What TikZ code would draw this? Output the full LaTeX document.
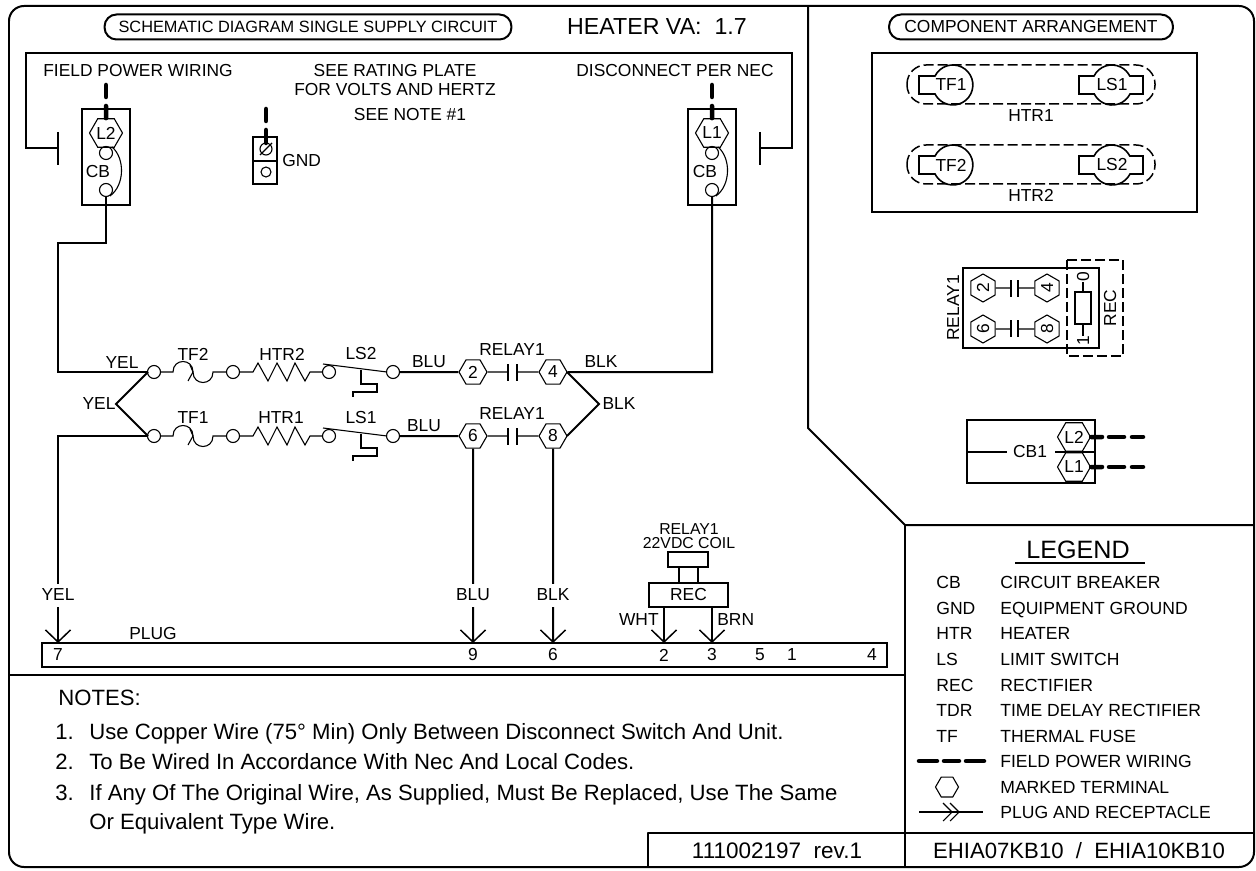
\documentclass[tikz,border=0pt]{standalone}
\usepackage{fontspec}
\setmainfont{Liberation Sans}
\usetikzlibrary{shapes.geometric,arrows.meta}
\tikzset{
  frame/.style={line width=0.04cm,line join=round},
  wire/.style={line width=0.04cm,line join=miter},
  thinw/.style={line width=0.022cm},
  fieldw/.style={line width=0.09cm,line cap=round},
  lbl/.style={inner sep=0pt,font=\fontsize{9.9}{11}\selectfont},
  wirelbl/.style={lbl,fill=white,minimum height=0.46cm},
  notetext/.style={inner sep=0pt,anchor=base west,font=\fontsize{12.6}{14}\selectfont},
  legtext/.style={inner sep=0pt,anchor=base west,font=\fontsize{10}{11}\selectfont},
  term/.style={circle,draw,line width=0.022cm,inner sep=0pt,minimum size=0.26cm},
  hexa/.style={regular polygon,regular polygon sides=6,draw,line width=0.022cm,inner sep=0pt,minimum size=0.56cm,font=\fontsize{9.9}{11}\selectfont},
  hexbig/.style={hexa,minimum size=0.66cm},
  pill/.style={draw,line width=0.04cm,rounded corners=0.24cm,minimum height=0.5cm,inner sep=0pt,font=\fontsize{9.9}{11}\selectfont},
  plugw/.style={wire,-{Straight Barb[length=0.24cm,width=0.5cm,line width=0.03cm]}},
  stadium/.style={line width=0.03cm,dash pattern=on 0.2cm off 0.08cm,rounded corners=0.38cm},
  part/.style={line width=0.032cm},
}
\begin{document}
\begin{tikzpicture}[x=0.02cm,y=-0.02cm]
\useasboundingbox (0,0) rectangle (1256,871);

% frame
\draw[frame,rounded corners=0.3cm] (9,6) rectangle (1254,867);
\draw[frame] (808,6) -- (808,428) -- (905,525) -- (1254,525);
\draw[frame] (905,525) -- (905,867);
\draw[frame] (9,675) -- (905,675);
\draw[frame] (648,867) -- (648,833) -- (1254,833);

\node[pill,minimum width=8.14cm,font=\fontsize{9.3}{11}\selectfont] (titleL) at (308,27) {SCHEMATIC DIAGRAM SINGLE SUPPLY CIRCUIT};
\node[pill,minimum width=5.68cm] (titleR) at (1031,27) {COMPONENT ARRANGEMENT};
\node[lbl,font=\fontsize{13.2}{15}\selectfont] (heater) at (657,27) {HEATER VA:\ \ 1.7};

\node[lbl] (fieldL) at (138,71) {FIELD POWER WIRING};
\node[lbl] (rate1) at (395,71) {SEE RATING PLATE};
\node[lbl] (rate2) at (395,90) {FOR VOLTS AND HERTZ};
\node[lbl] (rate3) at (410,115) {SEE NOTE \#1};
\node[lbl] (fieldR) at (675,71) {DISCONNECT PER NEC};

% left breaker
\coordinate (tickL) at (58,148);
\coordinate (tickR) at (760,148);
\draw[wire,line width=0.03cm] (tickL) -- (26,148) |- (792,53) |- (tickR);
\draw[wire,line width=0.03cm] (58,132) -- (58,165);
\draw[wire,line width=0.03cm] (760,132) -- (760,165);

\draw[wire] (82,109) rectangle (130,205);
\node[hexbig] (L2) at (106,133) {L2};
\node[term] (cbL1) at (106,153) {};
\node[term] (cbL2) at (106,190) {};
\node[lbl] (cbLt) at (98,172) {CB};
\draw[thinw] (112,147) .. controls (125,158) and (125,185) .. (110,196);
\draw[fieldw] (106,85) -- (106,97);
\draw[fieldw] (106,106) -- (L2.north);

% right breaker
\draw[wire] (688,109) rectangle (736,205);
\node[hexbig] (L1) at (712,133) {L1};
\node[term] (cbR1) at (712,153) {};
\node[term] (cbR2) at (712,190) {};
\node[lbl] (cbRt) at (705,172) {CB};
\draw[thinw] (718,147) .. controls (731,158) and (731,185) .. (716,196);
\draw[fieldw] (712,85) -- (712,97);
\draw[fieldw] (712,106) -- (L1.north);

% ground
\draw[thinw] (253,137) rectangle (277,184);
\draw[thinw] (253,161) -- (277,161);
\node[term,minimum size=0.24cm] (gnd1) at (266,149) {};
\node[term,minimum size=0.2cm] (gnd2) at (266,172) {};
\draw[thinw] (260,155) -- (272,143);
\node[lbl,anchor=west] (gndt) at (282,161) {GND};
\draw[fieldw] (266,109) -- (266,121);
\draw[fieldw] (266,130) -- (266,143);

% upper branch
\node[term] (a1) at (154,372) {};
\node[term] (a2) at (233,372) {};
\node[term] (a3) at (329,372) {};
\node[term] (a4) at (393,372) {};
\node[hexa] (h2) at (473,372) {2};
\node[hexa] (h4) at (553,372) {4};
\coordinate (fa) at (173,372);
\coordinate (fb) at (213,372);
\coordinate (ra) at (253,372);
\coordinate (rb) at (310,372);
\coordinate (ca) at (508,372);
\coordinate (cb) at (517,372);
\draw[thinw] (a1) -- (fa) .. controls (173,358) and (193,358) .. (193,372) .. controls (193,386) and (213,386) .. (fb) -- (a2);
\draw[thinw] (188,381) -- (193,372) -- (190,365);
\draw[thinw] (a2) -- (ra) -- (258,363) -- (268,381) -- (277,363) -- (287,381) -- (295,363) -- (305,381) -- (rb) -- (a3);
\draw[thinw] (323,364) -- (387,372);
\draw[thinw] (361,370) -- (361,384) -- (377,384) -- (377,392) -- (353,392) -- (353,397);
\draw[wire] (a4) -- (h2);
\draw[thinw] (h2) -- (ca);
\draw[thinw] (cb) -- (h4);
\draw[thinw] (508,364) -- (508,381);
\draw[thinw] (517,364) -- (517,381);
\node[lbl] (yel1) at (122,363) {YEL};
\node[lbl] (tf2) at (193,354) {TF2};
\node[lbl] (htr2) at (282,354) {HTR2};
\node[lbl] (ls2) at (361,354) {LS2};
\node[lbl] (blu1) at (429,362) {BLU};
\node[lbl] (rel1) at (512,350) {RELAY1};
\node[lbl] (blk1) at (601,362) {BLK};

% lower branch
\node[term] (b1) at (154,436) {};
\node[term] (b2) at (233,436) {};
\node[term] (b3) at (329,436) {};
\node[term] (b4) at (393,436) {};
\node[hexa] (h6) at (473,436) {6};
\node[hexa] (h8) at (553,436) {8};
\coordinate (ga) at (173,436);
\coordinate (gb) at (213,436);
\coordinate (sa) at (253,436);
\coordinate (sb) at (310,436);
\coordinate (da) at (508,436);
\coordinate (db) at (517,436);
\draw[thinw] (b1) -- (ga) .. controls (173,422) and (193,422) .. (193,436) .. controls (193,450) and (213,450) .. (gb) -- (b2);
\draw[thinw] (188,445) -- (193,436) -- (190,429);
\draw[thinw] (b2) -- (sa) -- (258,427) -- (268,445) -- (277,427) -- (287,445) -- (295,427) -- (305,445) -- (sb) -- (b3);
\draw[thinw] (323,428) -- (387,436);
\draw[thinw] (361,434) -- (361,448) -- (377,448) -- (377,456) -- (353,456) -- (353,461);
\draw[wire] (b4) -- (h6);
\draw[thinw] (h6) -- (da);
\draw[thinw] (db) -- (h8);
\draw[thinw] (508,428) -- (508,445);
\draw[thinw] (517,428) -- (517,445);
\node[lbl] (yel2) at (99,404) {YEL};
\node[lbl] (tf1) at (193,418) {TF1};
\node[lbl] (htr1) at (281,418) {HTR1};
\node[lbl] (ls1) at (361,418) {LS1};
\node[lbl] (blu2) at (424,426) {BLU};
\node[lbl] (rel2) at (512,414) {RELAY1};
\node[lbl] (blk2) at (619,404) {BLK};

% branch wires
\coordinate (yelJ) at (116,404);
\coordinate (blkJ) at (599,404);
\coordinate (botL) at (148,436);
\coordinate (topL) at (148,372);
\draw[wire] (cbL2) -- (106,243) -- (58,243) -- (58,372) -- (topL);
\draw[wire] (topL) -- (yelJ) -- (botL);
\draw[wire] (cbR2) -- (712,372) -- (h4);
\draw[wire] (567,372) -- (blkJ) -- (567,436);

% plug
\draw[wire] (42,643) rectangle (887,667);
\coordinate (p7) at (58,643);
\coordinate (p9) at (473,643);
\coordinate (p6) at (553,643);
\coordinate (p2) at (664,643);
\coordinate (p3) at (712,643);
\draw[plugw] (botL) -- (58,436) -- (p7);
\draw[plugw] (h6) -- (p9);
\draw[plugw] (h8) -- (p6);
\node[draw,line width=0.028cm,minimum width=1.58cm,minimum height=0.48cm,inner sep=0pt,font=\fontsize{9.9}{11}\selectfont] (rec) at (688.5,595) {REC};
\node[draw,line width=0.028cm,minimum width=0.8cm,minimum height=0.3cm,inner sep=0pt] (coil) at (688,559.5) {};
\draw[thinw] (679,567) -- (679,583);
\draw[thinw] (698,567) -- (698,583);
\draw[plugw] (664,607) -- (p2);
\draw[plugw] (712,607) -- (p3);
\node[lbl,font=\fontsize{9}{10}\selectfont] (relc1) at (689,529) {RELAY1};
\node[lbl,font=\fontsize{9}{10}\selectfont] (relc2) at (689,543) {22VDC COIL};
\node[wirelbl] (yel3) at (58,595) {YEL};
\node[wirelbl] (blu3) at (473,595) {BLU};
\node[wirelbl] (blk3) at (553,595) {BLK};
\node[lbl,anchor=east] (wht) at (659,620) {WHT};
\node[lbl,anchor=west] (brn) at (717,620) {BRN};
\node[lbl] (plug) at (153,634) {PLUG};
\node[lbl] (n7) at (58,655) {7};
\node[lbl] (n9) at (473,655) {9};
\node[lbl] (n6) at (553,655) {6};
\node[lbl] (n2) at (664,655) {2};
\node[lbl] (n3) at (712,655) {3};
\node[lbl] (n5) at (760,655) {5};
\node[lbl] (n1) at (792,655) {1};
\node[lbl] (n4) at (872,655) {4};

% component arrangement
\draw[wire] (872,53) rectangle (1197,212);
\draw[stadium] (907,65) rectangle (1155,104);
\draw[stadium] (907,145) rectangle (1155,184);
\draw[part] (935,76) arc[start angle=153.3,end angle=-153.3,radius=0.4cm] -- (919,94) -- (919,76) -- cycle;
\draw[part] (1094,76) arc[start angle=153.3,end angle=26.7,radius=0.4cm] -- (1143,76) -- (1143,94) -- (1130,94) arc[start angle=-26.7,end angle=-153.3,radius=0.4cm] -- (1079,94) -- (1079,76) -- cycle;
\draw[part] (935,156) arc[start angle=153.3,end angle=-153.3,radius=0.4cm] -- (919,174) -- (919,156) -- cycle;
\draw[part] (1094,156) arc[start angle=153.3,end angle=26.7,radius=0.4cm] -- (1143,156) -- (1143,174) -- (1130,174) arc[start angle=-26.7,end angle=-153.3,radius=0.4cm] -- (1079,174) -- (1079,156) -- cycle;
\node[lbl] (ctf1) at (951,85) {TF1};
\node[lbl] (cls1) at (1112,85) {LS1};
\node[lbl] (ctf2) at (951,165) {TF2};
\node[lbl] (cls2) at (1112,165) {LS2};
\node[lbl] (chtr1) at (1031,116) {HTR1};
\node[lbl] (chtr2) at (1031,195) {HTR2};

% relay
\draw[wire] (963,268) rectangle (1099,348);
\draw[wire,dash pattern=on 0.2cm off 0.08cm] (1067,260) rectangle (1123,356);
\node[hexa,rotate=90] (r2) at (983,288) {2};
\node[hexa,rotate=90] (r4) at (1047,288) {4};
\node[hexa,rotate=90] (r6) at (983,329) {6};
\node[hexa,rotate=90] (r8) at (1047,329) {8};
\coordinate (rc2) at (1011,288);
\coordinate (rc4) at (1018,288);
\coordinate (rc6) at (1011,329);
\coordinate (rc8) at (1018,329);
\draw[thinw] (r2) -- (rc2);
\draw[thinw] (rc4) -- (r4);
\draw[thinw] (r6) -- (rc6);
\draw[thinw] (rc8) -- (r8);
\draw[thinw] (1011,280) -- (1011,297);
\draw[thinw] (1018,280) -- (1018,297);
\draw[thinw] (1011,320) -- (1011,337);
\draw[thinw] (1018,320) -- (1018,337);
\node[draw,line width=0.028cm,minimum width=0.32cm,minimum height=0.64cm,inner sep=0pt] (recb) at (1083,308) {};
\node[lbl,rotate=90] (rec0) at (1083,277) {0};
\node[lbl,rotate=90] (rec1) at (1083,341) {1};
\draw[thinw] (rec0) -- (recb);
\draw[thinw] (recb) -- (rec1);
\node[lbl,rotate=90] (rect) at (1110,308) {REC};
\node[lbl,rotate=90] (relt) at (953,308) {RELAY1};

% CB1
\draw[wire] (967,420) rectangle (1095,483);
\node[lbl] (cb1) at (1030,452) {CB1};
\coordinate (cbE) at (1095,452);
\coordinate (cbW) at (967,452);
\node[hexbig,fill=white] (hL2) at (1074,437) {L2};
\node[hexbig,fill=white] (hL1) at (1074,467) {L1};
\draw[wire] (cbW) -- (1007,452);
\draw[wire] (1055,452) -- (cbE);
\draw[fieldw] (hL2.east) -- (1102,437);
\draw[fieldw] (1109,437) -- (1124,437);
\draw[fieldw] (1132,437) -- (1143,437);
\draw[fieldw] (hL1.east) -- (1102,467);
\draw[fieldw] (1109,467) -- (1124,467);
\draw[fieldw] (1132,467) -- (1143,467);

% legend
\node[lbl,font=\fontsize{14.3}{16}\selectfont] (legend) at (1078,550) {LEGEND};
\draw[thinw] (1015,563) -- (1145,563);
\node[legtext] (k1) at (936,588) {CB};
\node[legtext] (k2) at (936,614) {GND};
\node[legtext] (k3) at (936,639) {HTR};
\node[legtext] (k4) at (936,665) {LS};
\node[legtext] (k5) at (936,691) {REC};
\node[legtext] (k6) at (936,716) {TDR};
\node[legtext] (k7) at (936,742) {TF};
\node[legtext] (d1) at (1000,588) {CIRCUIT BREAKER};
\node[legtext] (d2) at (1000,614) {EQUIPMENT GROUND};
\node[legtext] (d3) at (1000,639) {HEATER};
\node[legtext] (d4) at (1000,665) {LIMIT SWITCH};
\node[legtext] (d5) at (1000,691) {RECTIFIER};
\node[legtext] (d6) at (1000,716) {TIME DELAY RECTIFIER};
\node[legtext] (d7) at (1000,742) {THERMAL FUSE};
\node[legtext] (d8) at (1000,767) {FIELD POWER WIRING};
\node[legtext] (d9) at (1000,793) {MARKED TERMINAL};
\node[legtext] (d10) at (1000,818) {PLUG AND RECEPTACLE};
\draw[fieldw] (919,761) -- (937,761);
\draw[fieldw] (944,761) -- (959,761);
\draw[fieldw] (966,761) -- (984,761);
\node[hexa,minimum size=0.46cm] (keyh) at (947,787) {};
\draw[thinw] (919,812) -- (983,812);
\draw[thinw] (943,803) -- (952,812) -- (943,821);
\draw[thinw] (950,803) -- (959,812) -- (950,821);

% notes
\node[notetext] (nhead) at (58,705) {NOTES:};
\node[notetext] (m1) at (55,739) {1.};
\node[notetext] (m2) at (55,769) {2.};
\node[notetext] (m3) at (55,800) {3.};
\node[notetext] (t1) at (89,739) {Use Copper Wire (75° Min) Only Between Disconnect Switch And Unit.};
\node[notetext] (t2) at (89,769) {To Be Wired In Accordance With Nec And Local Codes.};
\node[notetext] (t3) at (89,800) {If Any Of The Original Wire, As Supplied, Must Be Replaced, Use The Same};
\node[notetext] (t4) at (89,829) {Or Equivalent Type Wire.};

\node[lbl,font=\fontsize{12.8}{14}\selectfont] (docno) at (777,851) {111002197\ \ rev.1};
\node[lbl,font=\fontsize{12.6}{14}\selectfont] (model) at (1079,851) {EHIA07KB10\ \ /\ \ EHIA10KB10};

\end{tikzpicture}
\end{document}
